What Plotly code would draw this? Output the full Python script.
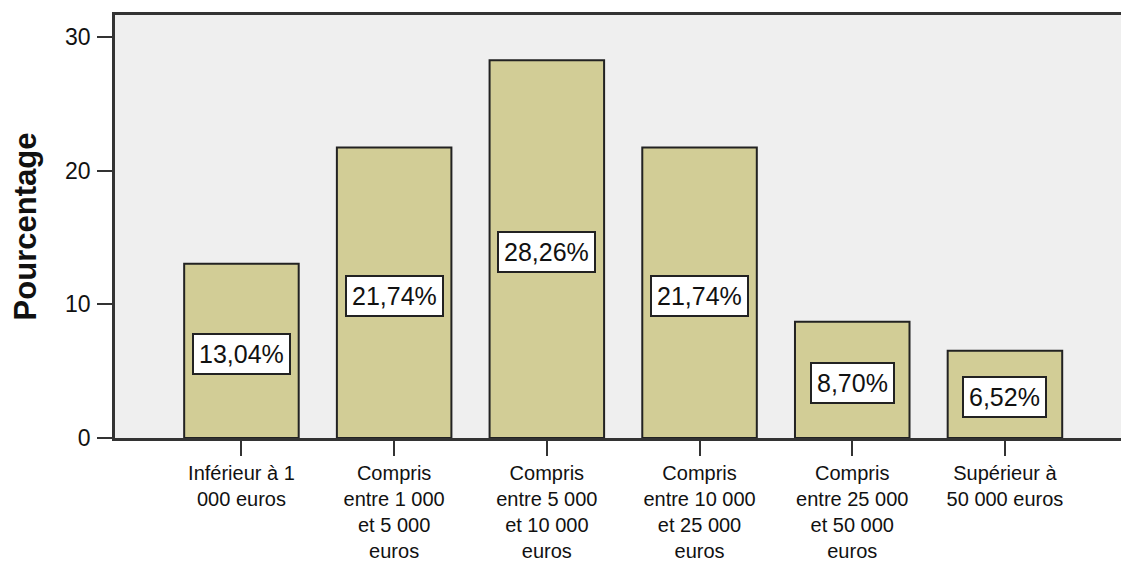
import plotly.graph_objects as go

categories = [
    "Inférieur à 1<br>000 euros",
    "Compris<br>entre 1 000<br>et 5 000<br>euros",
    "Compris<br>entre 5 000<br>et 10 000<br>euros",
    "Compris<br>entre 10 000<br>et 25 000<br>euros",
    "Compris<br>entre 25 000<br>et 50 000<br>euros",
    "Supérieur à<br>50 000 euros",
]
percentages = [13.04, 21.74, 28.26, 21.74, 8.70, 6.52]
y_ticks = [0, 10, 20, 30]
y_title = "Pourcentage"

FONT = "Arial, 'Liberation Sans', sans-serif"
AXIS_COLOR = "#333333"

fig = go.Figure()
fig.add_trace(go.Bar(
    x=categories,
    y=percentages,
    width=0.75,
    marker=dict(color="#d2cd96", line=dict(color="#222222", width=2)),
    hoverinfo="skip",
))

for cat, v in zip(categories, percentages):
    fig.add_annotation(
        x=cat, y=v / 2, yshift=-3,
        text=f"{v:.2f}".replace(".", ",") + "%",
        showarrow=False,
        font=dict(family=FONT, size=25, color="#111111"),
        bgcolor="white",
        bordercolor="#222222",
        borderwidth=2,
        borderpad=5,
    )

fig.update_layout(
    width=1121, height=561,
    margin=dict(l=115, r=0, t=15, b=123, autoexpand=False),
    paper_bgcolor="white",
    plot_bgcolor="#efefef",
    showlegend=False,
    font=dict(family=FONT, color="#111111"),
)

fig.update_xaxes(
    type="category",
    range=[-0.828, 5.76],
    automargin=False,
    showgrid=False,
    zeroline=False,
    showline=True, linecolor=AXIS_COLOR, linewidth=2.5,
    mirror=True,
    ticks="outside", ticklen=15, tickwidth=2, tickcolor=AXIS_COLOR,
    tickfont=dict(family=FONT, size=20, color="#111111"),
    ticklabelstandoff=0,
)

fig.update_yaxes(
    range=[0, 31.65],
    automargin=False,
    tickvals=y_ticks,
    showgrid=False,
    zeroline=False,
    showline=True, linecolor=AXIS_COLOR, linewidth=2.5,
    ticks="outside", ticklen=15, tickwidth=2, tickcolor=AXIS_COLOR,
    tickfont=dict(family=FONT, size=23, color="#111111"),
    ticklabelstandoff=2,
    title=dict(text=f"<b>{y_title}</b>", font=dict(family=FONT, size=31, color="#111111"), standoff=20),
)

fig.write_html(
    "out.html",
    config={"displayModeBar": False},
    post_script="document.body.style.margin='0';document.body.style.overflow='hidden';",
)
